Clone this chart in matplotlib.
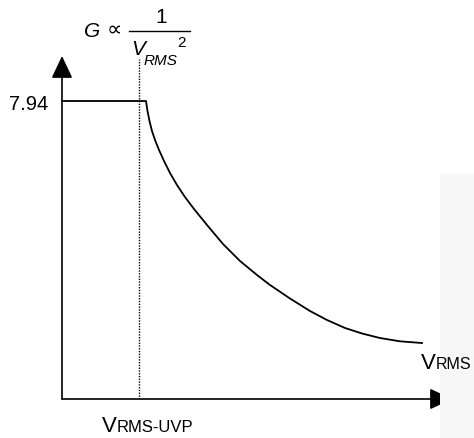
import matplotlib
matplotlib.use("Agg")
import matplotlib.pyplot as plt
from matplotlib.patches import Rectangle

plt.rcParams['font.family'] = ['Liberation Sans', 'DejaVu Sans']

# gain curve: flat at G_MAX up to the knee, then falls off roughly as 1/V^2
G_MAX = 7.94
V_UVP = 2.05
v_curve = [0.0, 2.238, 2.278, 2.331, 2.398, 2.478, 2.585, 2.718, 2.878, 3.064, 3.277,
           3.517, 3.864, 4.290, 4.743, 5.196, 5.542, 6.075, 6.608, 7.061, 7.541,
           7.994, 8.473, 9.006, 9.592]
g_curve = [7.94, 7.94, 7.674, 7.407, 7.141, 6.901, 6.635, 6.342, 6.022, 5.702, 5.382,
           5.063, 4.636, 4.130, 3.677, 3.304, 3.038, 2.678, 2.345, 2.105, 1.892,
           1.745, 1.625, 1.537, 1.492]

W, H = 474, 439
S = 37.53  # pixels per unit
X0, Y0 = 62, 400

fig = plt.figure(figsize=(W / 100, H / 100), dpi=100)

# faint shading at the right edge
fig.patches.append(Rectangle((440 / W, 0), 34 / W, 1 - 175 / H, transform=fig.transFigure,
                             facecolor='#f7f7f7', edgecolor='none', zorder=0))

xmax, ymax = (452 - X0) / S, (Y0 - 57) / S
ax = fig.add_axes([X0 / W, (H - Y0) / H, (452 - X0) / W, (Y0 - 57) / H])
ax.set_xlim(0, xmax)
ax.set_ylim(0, ymax)
ax.patch.set_alpha(0)
for sp in ax.spines.values():
    sp.set_visible(False)
ax.set_xticks([])
ax.set_yticks([G_MAX])
ax.set_yticklabels(['7.94'])
ax.tick_params(axis='y', length=0, pad=10, labelsize=14.5)

# axes with arrowheads
arrow = dict(arrowstyle='-|>,head_length=0.55,head_width=0.26', color='black', lw=1.2,
             mutation_scale=25, shrinkA=0, shrinkB=0)
ax.annotate('', xy=(0, ymax), xytext=(0, 0), arrowprops=arrow, annotation_clip=False)
ax.annotate('', xy=(xmax, 0), xytext=(0, 0), arrowprops=arrow, annotation_clip=False)

ax.plot(v_curve, g_curve, color='black', lw=1.3, clip_on=False)
ax.plot([V_UVP, V_UVP], [0, (Y0 - 60) / S], color='black', lw=1.0,
        linestyle=(0, (1, 1)), clip_on=False)


def ftext(x, y, s, **kw):
    fig.text(x / W, 1 - y / H, s, va='baseline', **kw)


# axis labels
ftext(102, 432, 'V', fontsize=16)
ftext(117, 432, 'RMS-UVP', fontsize=12)
ftext(421, 369, 'V', fontsize=16)
ftext(436, 369, 'RMS', fontsize=11.5)

# G ∝ 1 / V_RMS^2
ftext(84, 37, 'G', fontsize=15, style='italic')
ftext(114, 36, '\u221d', fontsize=15.5, ha='center')
ftext(161, 23, '1', fontsize=15, ha='center')
fig.add_artist(plt.Line2D([129 / W, 190 / W], [1 - 32 / H, 1 - 32 / H], color='black', lw=1.0))
ftext(131, 55, 'V', fontsize=15, style='italic')
ftext(144, 65, 'RMS', fontsize=11, style='italic')
ftext(177, 47, '2', fontsize=11)

fig.savefig('out.png', dpi=100)
